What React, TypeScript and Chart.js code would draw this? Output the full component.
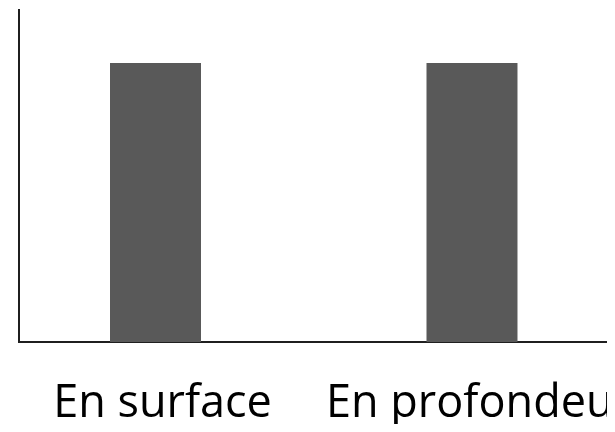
import React, { useEffect, useRef } from "react";
import { Chart, registerables } from "chart.js";

Chart.register(...registerables);

const categories = ["En surface", "En profondeur"];
const values = [84, 84];
const yMax = 100;

const BAR_COLOR = "#595959";
const AXIS_COLOR = "#1f1f1f";

export default function App() {
  const canvasRef = useRef<HTMLCanvasElement | null>(null);

  useEffect(() => {
    const canvas = canvasRef.current;
    if (!canvas) return;
    const chart = new Chart(canvas, {
      type: "bar",
      data: {
        datasets: [
          {
            data: categories.map((_, i) => ({ x: i + 1, y: values[i] })),
            backgroundColor: BAR_COLOR,
            borderWidth: 0,
            barPercentage: 0.2875,
            categoryPercentage: 1,
          },
        ],
      },
      options: {
        responsive: false,
        animation: false,
        layout: { padding: { left: 18, top: 10, right: 191, bottom: 0 } },
        plugins: { legend: { display: false }, tooltip: { enabled: false } },
        scales: {
          x: {
            type: "linear",
            offset: false,
            min: 0.5687,
            max: 2.4329,
            grid: { display: false, drawTicks: false, offset: false },
            border: { display: true, color: AXIS_COLOR, width: 2 },
            afterBuildTicks: (scale: any) => {
              scale.ticks = categories.map((_, i) => ({ value: i + 1 }));
            },
            afterFit: (scale: any) => {
              scale.height = 90;
            },
            ticks: {
              autoSkip: false,
              maxRotation: 0,
              padding: 35,
              labelOffset: 7,
              color: "#000",
              font: { family: "Open Sans", size: 45 },
              callback: (v: any) => categories[Math.round(Number(v)) - 1] ?? "",
            },
          },
          y: {
            min: 0,
            max: yMax,
            grid: { display: false, drawTicks: false },
            border: { display: true, color: AXIS_COLOR, width: 2 },
            ticks: { display: false },
            afterFit: (scale: any) => {
              scale.width = 1;
            },
          },
        },
      },
    });
    return () => chart.destroy();
  }, []);

  return (
    <div style={{ width: 615, height: 432, overflow: "hidden", margin: -8, background: "#fff" }}>
      <canvas ref={canvasRef} width={800} height={432} style={{ display: "block" }} />
    </div>
  );
}
